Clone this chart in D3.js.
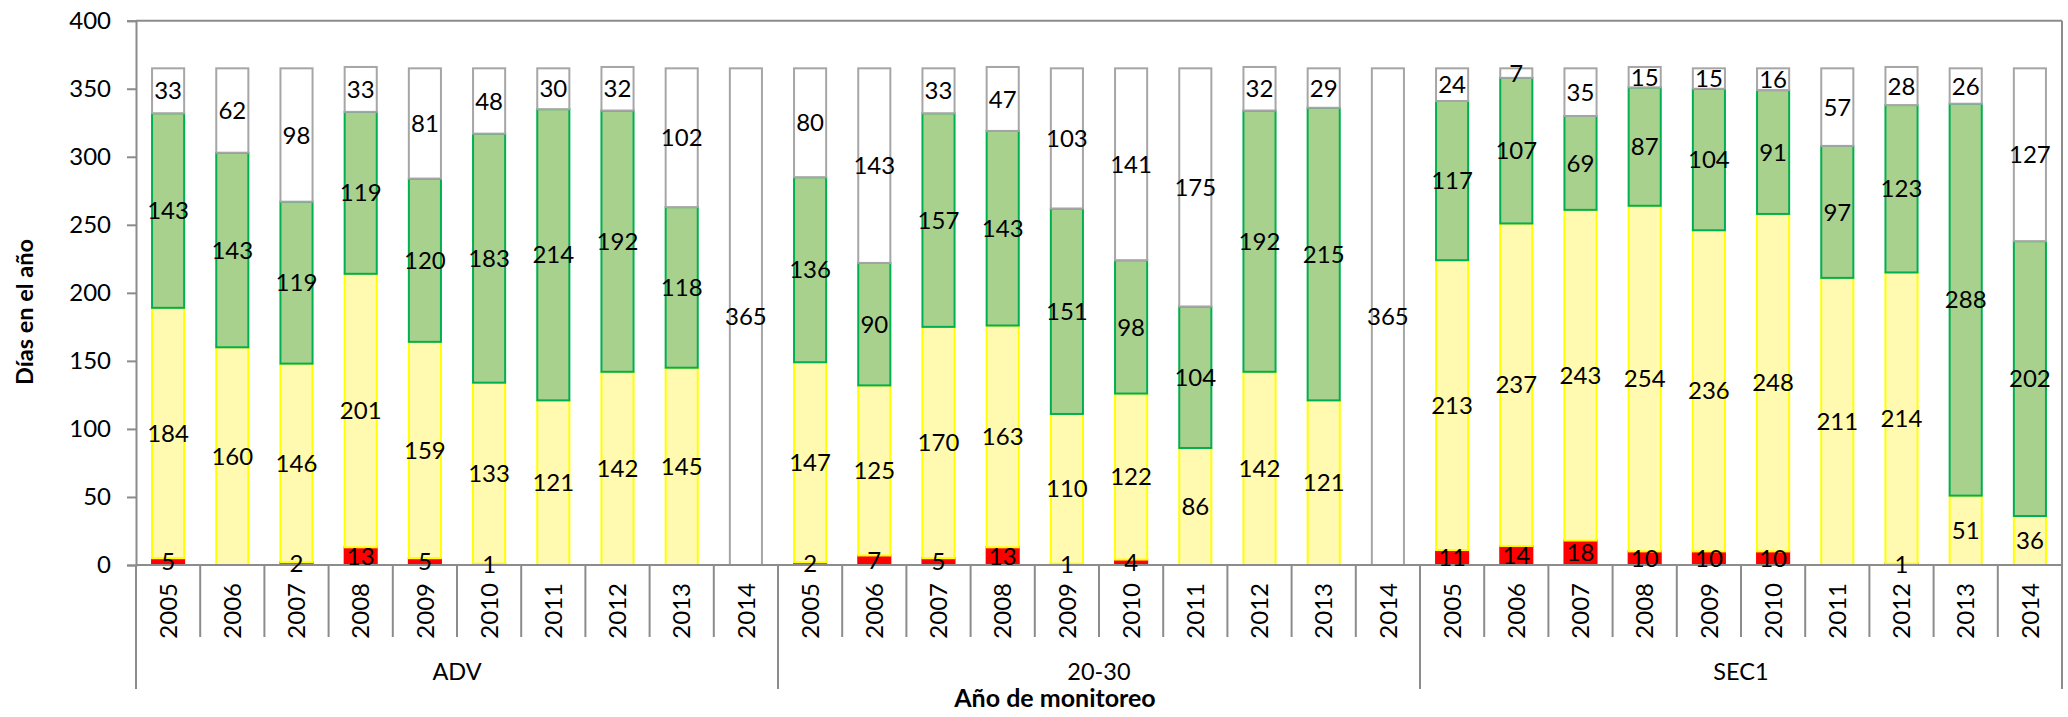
<!DOCTYPE html>
<html>
<head>
<meta charset="utf-8">
<script src="https://cdn.jsdelivr.net/npm/d3@7"></script>
<style>
  html, body { margin: 0; padding: 0; background: #fff; }
  svg { display: block; }
  text { font-family: Lato, "Open Sans", sans-serif; fill: #000; }
</style>
</head>
<body>
<div id="chart"></div>
<script>
// ---- data ----
const groups = ["ADV", "20-30", "SEC1"];
const years = ["2005","2006","2007","2008","2009","2010","2011","2012","2013","2014"];
// values in order: ADV 2005..2014, 20-30 2005..2014, SEC1 2005..2014
const redValues = [5,0,2,13,5,1,0,0,0,0,  2,7,5,13,1,4,0,0,0,0,  11,14,18,10,10,10,0,1,0,0];
const yellowValues = [184,160,146,201,159,133,121,142,145,0,  147,125,170,163,110,122,86,142,121,0,  213,237,243,254,236,248,211,214,51,36];
const greenValues = [143,143,119,119,120,183,214,192,118,0,  136,90,157,143,151,98,104,192,215,0,  117,107,69,87,104,91,97,123,288,202];
const whiteValues = [33,62,98,33,81,48,30,32,102,365,  80,143,33,47,103,141,175,32,29,365,  24,7,35,15,15,16,57,28,26,127];
const yTicks = [0,50,100,150,200,250,300,350,400];
const yTitle = "Días en el año";
const xTitle = "Año de monitoreo";

const seriesKeys = ["red","yellow","green","white"];
const seriesFill = {red:"#FF0000", yellow:"#FFFAB0", green:"#A9D18E", white:"#FFFFFF"};
const seriesStroke = {red:"#FF0000", yellow:"#FFFF00", green:"#00B050", white:"#A6A6A6"};

const rows = [];
groups.forEach((g, gi) => years.forEach((yr, yi) => {
  const i = gi * years.length + yi;
  rows.push({key: g + "|" + yr, group: g, year: yr,
    red: redValues[i], yellow: yellowValues[i], green: greenValues[i], white: whiteValues[i]});
}));

// ---- layout ----
const W = 2068, H = 717;
const pLeft = 136, pRight = 2062, pTop = 20.7, pBottom = 565;
const catBottom = 637, groupBottom = 689;

const svg = d3.select("#chart").append("svg").attr("width", W).attr("height", H);

const x = d3.scaleBand().domain(rows.map(d => d.key)).range([pLeft, pRight])
  .paddingInner(0.5).paddingOuter(0.25);
const xg = d3.scaleBand().domain(groups).range([pLeft, pRight]).padding(0);
const y = d3.scaleLinear().domain([0, 400]).range([pBottom, pTop]);

const stacked = d3.stack().keys(seriesKeys)(rows);

const axisColor = "#8C8C8C";

// bars
const layers = svg.append("g").selectAll("g").data(stacked).join("g")
  .attr("fill", d => seriesFill[d.key])
  .attr("stroke", d => seriesStroke[d.key])
  .attr("stroke-width", 2);
layers.selectAll("rect").data(d => d.filter(s => s[1] - s[0] > 0)).join("rect")
  .attr("x", d => x(d.data.key))
  .attr("width", x.bandwidth())
  .attr("y", d => y(d[1]))
  .attr("height", d => y(d[0]) - y(d[1]));

// plot border (top / right)
svg.append("line").attr("x1", pLeft).attr("x2", pRight).attr("y1", pTop).attr("y2", pTop)
  .attr("stroke", axisColor).attr("stroke-width", 2);
svg.append("line").attr("x1", pRight).attr("x2", pRight).attr("y1", pTop).attr("y2", groupBottom)
  .attr("stroke", axisColor).attr("stroke-width", 2);

// y axis
const yAxis = d3.axisLeft(y).tickValues(yTicks).tickSize(9).tickPadding(16);
const gy = svg.append("g").attr("transform", `translate(${pLeft},0)`).call(yAxis);
gy.select(".domain").attr("stroke", axisColor).attr("stroke-width", 2);
gy.selectAll(".tick line").attr("stroke", axisColor).attr("stroke-width", 2);
gy.selectAll(".tick text").style("font-size", "24px").attr("fill", "#000")
  .style("font-family", "Lato, sans-serif");
svg.append("line").attr("x1", pLeft).attr("x2", pLeft).attr("y1", pBottom).attr("y2", groupBottom)
  .attr("stroke", axisColor).attr("stroke-width", 2);

// x axis baseline
svg.append("line").attr("x1", pLeft).attr("x2", pRight).attr("y1", y(0)).attr("y2", y(0))
  .attr("stroke", axisColor).attr("stroke-width", 2);

// category separators
const gap = (x.step() - x.bandwidth()) / 2;
const bounds = rows.map((d, i) => ({pos: x(d.key) - gap, isGroup: i % years.length === 0}));
bounds.push({pos: x(rows[rows.length - 1].key) + x.bandwidth() + gap, isGroup: true});
svg.append("g").selectAll("line").data(bounds).join("line")
  .attr("x1", d => d.pos).attr("x2", d => d.pos)
  .attr("y1", y(0)).attr("y2", d => d.isGroup ? groupBottom : catBottom)
  .attr("stroke", axisColor).attr("stroke-width", 2);

// year labels
svg.append("g").selectAll("text").data(rows).join("text")
  .attr("transform", d => `translate(${x(d.key) + x.bandwidth() / 2},583) rotate(-90)`)
  .attr("text-anchor", "end").attr("dy", "0.36em")
  .style("font-size", "24px")
  .text(d => d.year);

// group labels
svg.append("g").selectAll("text").data(groups).join("text")
  .attr("x", d => xg(d) + xg.bandwidth() / 2).attr("y", 680)
  .attr("text-anchor", "middle").style("font-size", "23.5px")
  .text(d => d);

// axis titles
svg.append("text").attr("x", 1055).attr("y", 707).attr("text-anchor", "middle")
  .style("font-size", "25px").style("font-weight", "bold").text(xTitle);
svg.append("text").attr("transform", "translate(25,312) rotate(-90)")
  .attr("text-anchor", "middle").attr("dy", "0.36em")
  .style("font-size", "23.5px").style("font-weight", "bold").text(yTitle);

// data labels
const labels = [];
stacked.forEach(layer => layer.forEach(s => {
  const v = s[1] - s[0];
  if (v > 0) labels.push({key: s.data.key, v: v, mid: (s[0] + s[1]) / 2});
}));
svg.append("g").selectAll("text").data(labels).join("text")
  .attr("x", d => x(d.key) + x.bandwidth() / 2)
  .attr("y", d => y(d.mid))
  .attr("dy", "0.36em")
  .attr("text-anchor", "middle")
  .style("font-size", "24px")
  .text(d => d.v);
</script>
</body>
</html>
